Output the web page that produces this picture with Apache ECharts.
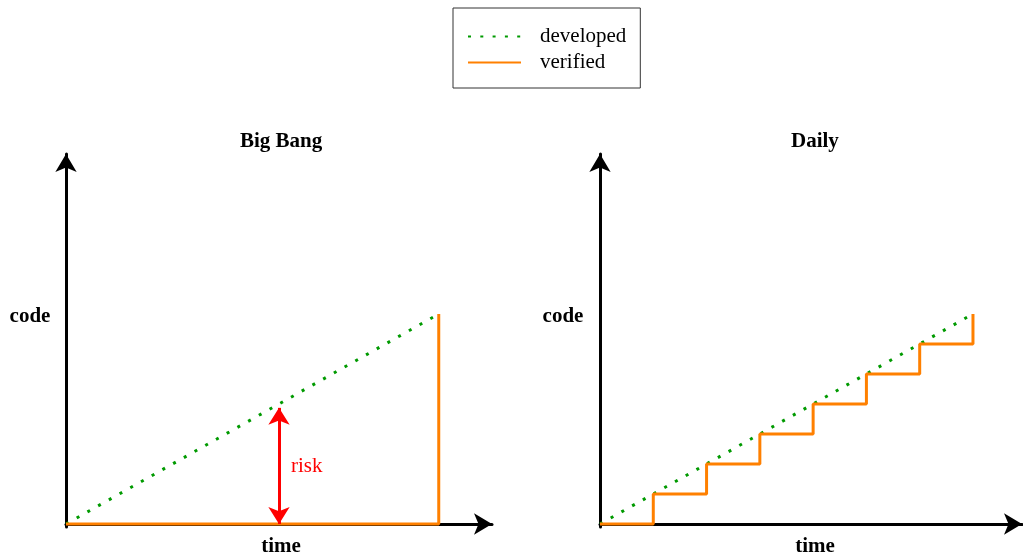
<!DOCTYPE html>
<html><head><meta charset="utf-8">
<script src="https://cdn.jsdelivr.net/npm/echarts@6/dist/echarts.min.js"></script>
<style>html,body{margin:0;padding:0;background:#fff}#c{width:1023px;height:556px}</style>
</head><body><div id="c"></div>
<script>
// ---- data ----
const panelTitles = ['Big Bang', 'Daily'];
const seriesNames = ['developed', 'verified'];
const xAxisName = 'time';
const yAxisName = 'code';
const riskLabel = 'risk';
const developedX = [0, 7];
const developedY = [0, 7];
const bigBangVerifiedX = [0, 7, 7];
const bigBangVerifiedY = [0, 0, 7];
const dailyVerifiedX = [0, 1, 2, 3, 4, 5, 6, 7];
const dailyVerifiedY = [0, 1, 2, 3, 4, 5, 6, 7];
const riskX = 4;
const riskFrom = 0;
const riskTo = 3.87;

const zip = (xs, ys) => xs.map((x, i) => [x, ys[i]]);
const FONT = 'Liberation Serif, Times New Roman, serif';
const GREEN = '#009a00';
const ORANGE = '#ff8000';

const axisLineCommon = {
  show: true,
  lineStyle: { color: '#000', width: 3 },
  symbol: ['none', 'arrow'],
  symbolSize: [16, 18]
};
function xAx(gi, max) {
  return { type: 'value', gridIndex: gi, min: 0, max: max, axisLine: axisLineCommon,
    axisTick: { show: false }, axisLabel: { show: false }, splitLine: { show: false } };
}
function yAx(gi) {
  return { type: 'value', gridIndex: gi, min: -0.1, max: 12.33, axisLine: axisLineCommon,
    axisTick: { show: false }, axisLabel: { show: false }, splitLine: { show: false } };
}
const devStyle = { color: GREEN, width: 3, type: [3, 9.3], cap: 'butt' };
const verStyle = { color: ORANGE, width: 3 };
const titleText = { fontFamily: FONT, fontSize: 21, fontWeight: 'bold', color: '#000' };

const chart = echarts.init(document.getElementById('c'));
chart.setOption({
  animation: false,
  title: [
    { text: panelTitles[0], left: 240, top: 131, padding: 0, textStyle: titleText },
    { text: panelTitles[1], left: 791, top: 131, padding: 0, textStyle: titleText }
  ],
  legend: {
    data: seriesNames, orient: 'vertical', left: 453, top: 8,
    padding: [18, 14, 15, 14], itemWidth: 53, itemHeight: 14, itemGap: 5,
    borderColor: '#333', borderWidth: 1, backgroundColor: '#fff',
    itemStyle: { opacity: 0 },
    textStyle: { fontFamily: FONT, fontSize: 21, lineHeight: 18, color: '#000', padding: [0, 0, 0, 14] }
  },
  grid: [
    { left: 66, top: 154, width: 426, height: 373 },
    { left: 600, top: 154, width: 422, height: 373 }
  ],
  xAxis: [xAx(0, 8.0), xAx(1, 7.92)],
  yAxis: [yAx(0), yAx(1)],
  series: [
    { name: seriesNames[0], type: 'line', xAxisIndex: 0, yAxisIndex: 0, symbol: 'none',
      data: zip(developedX, developedY), lineStyle: devStyle, itemStyle: { color: GREEN }, z: 2,
      markLine: {
        silent: true, symbol: ['arrow', 'arrow'], symbolSize: [16, 17],
        lineStyle: { color: '#ff0000', width: 3, type: 'solid' },
        itemStyle: { color: '#ff0000' },
        label: { show: false },
        data: [[{ coord: [riskX, riskFrom] }, { coord: [riskX, riskTo] }]]
      } },
    { name: seriesNames[1], type: 'line', xAxisIndex: 0, yAxisIndex: 0, symbol: 'none',
      data: zip(bigBangVerifiedX, bigBangVerifiedY), lineStyle: verStyle, itemStyle: { color: ORANGE }, z: 3 },
    { name: seriesNames[0], type: 'line', xAxisIndex: 1, yAxisIndex: 1, symbol: 'none',
      data: zip(developedX, developedY), lineStyle: devStyle, itemStyle: { color: GREEN }, z: 2 },
    { name: seriesNames[1], type: 'line', xAxisIndex: 1, yAxisIndex: 1, symbol: 'none', step: 'end',
      data: zip(dailyVerifiedX, dailyVerifiedY), lineStyle: verStyle, itemStyle: { color: ORANGE }, z: 3 }
  ],
  graphic: [
    { type: 'text', x: 281, y: 547, style: { text: xAxisName, font: 'bold 21px ' + FONT, fill: '#000', align: 'center', verticalAlign: 'middle' } },
    { type: 'text', x: 815, y: 547, style: { text: xAxisName, font: 'bold 21px ' + FONT, fill: '#000', align: 'center', verticalAlign: 'middle' } },
    { type: 'text', x: 30, y: 317, style: { text: yAxisName, font: 'bold 21px ' + FONT, fill: '#000', align: 'center', verticalAlign: 'middle' } },
    { type: 'text', x: 563, y: 317, style: { text: yAxisName, font: 'bold 21px ' + FONT, fill: '#000', align: 'center', verticalAlign: 'middle' } },
    { type: 'text', x: 291, y: 466, style: { text: riskLabel, font: '21px ' + FONT, fill: '#ff0000', align: 'left', verticalAlign: 'middle' } }
  ]
});
</script></body></html>
